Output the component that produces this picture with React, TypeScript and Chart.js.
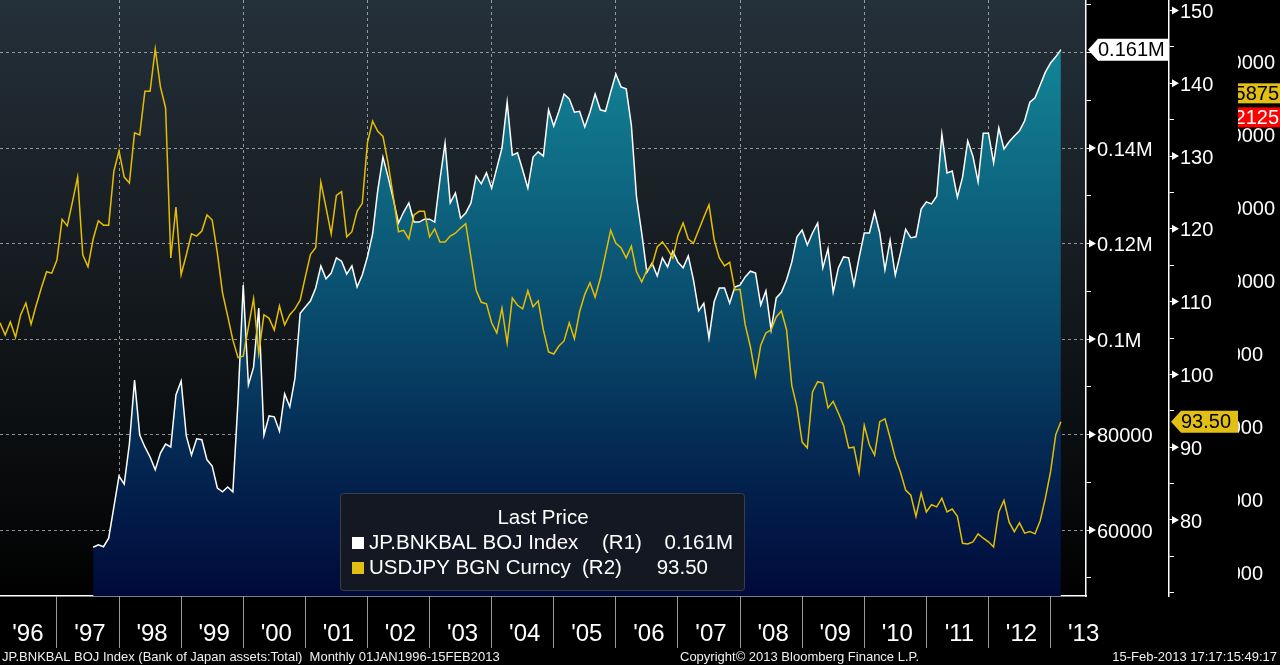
import React, { useEffect, useRef } from 'react';
import { Chart, registerables } from 'chart.js';

Chart.register(...registerables);

const FONT = '"Liberation Sans", Arial, sans-serif';

// ---------- data ----------
// monthly observations, first one = Jan 1996 (plotted at month end)
const FIRST_YEAR = 1996;

const usdjpy = [
  107.1, 105.4, 107.2, 105.1, 108.2, 109.8, 106.9, 109.5, 111.9, 114.1,
  113.9, 115.7, 121.3, 120.4, 123.7, 127.1, 116.4, 114.8, 118.6, 121.1,
  120.5, 120.5, 127.9, 130.7, 127.1, 126.3, 133.2, 132.9, 138.9, 138.9,
  144.7, 139.5, 136.6, 116.0, 123.0, 113.7, 116.4, 119.3, 119.0, 119.7,
  121.9, 121.2, 116.7, 111.2, 108.0, 104.7, 102.3, 102.5, 106.5, 110.4,
  102.9, 108.2, 107.7, 106.1, 109.4, 106.8, 108.2, 109.0, 110.2, 113.4,
  116.5, 117.4, 126.4, 122.9, 119.3, 124.6, 125.1, 118.9, 119.6, 122.4,
  123.5, 131.8, 134.8, 133.4, 132.7, 129.0, 124.4, 119.6, 119.8, 118.6,
  121.9, 122.4, 122.4, 118.9, 120.0, 118.2, 118.2, 119.0, 119.4, 120.1,
  120.7, 116.1, 111.6, 109.9, 109.7, 107.1, 105.7, 109.1, 104.3, 110.5,
  109.5, 109.0, 111.5, 109.3, 110.1, 106.1, 103.1, 102.8, 103.9, 104.6,
  107.1, 104.9, 108.6, 111.0, 112.6, 110.6, 113.2, 116.5, 119.8, 118.0,
  117.4, 116.0, 117.6, 114.1, 112.7, 114.3, 115.0, 117.5, 118.2, 117.2,
  116.0, 119.1, 120.8, 118.6, 118.0, 119.8, 121.6, 123.3, 118.5, 116.0,
  114.9, 115.4, 111.6, 111.7, 106.8, 103.8, 99.8, 104.0, 105.7, 106.1,
  107.9, 108.7, 106.1, 98.5, 95.5, 90.7, 89.9, 97.6, 99.0, 98.8,
  95.4, 96.3, 94.7, 93.0, 89.9, 90.0, 86.5, 93.0, 90.3, 88.9,
  93.5, 93.9, 91.3, 88.5, 86.6, 84.1, 83.4, 80.5, 83.7, 81.1,
  82.1, 81.8, 83.0, 81.1, 81.5, 80.5, 76.8, 76.7, 77.0, 78.1,
  77.5, 77.0, 76.3, 81.1, 82.7, 79.7, 78.4, 79.6, 78.2, 78.4,
  78.1, 79.9, 83.0, 86.6, 91.7, 93.5,
];

// BOJ balance series starts later (month index 18 = Jul 1997)
const BOJ_FIRST_MONTH = 18;
const bojBal = [
  56400, 56900,
  56500, 58300, 64800, 71300, 69600, 78000, 91400, 79900, 77400, 75300,
  72600, 76100, 78000, 77400, 88300, 91200, 79700, 75700, 79100, 78900,
  74700, 73400, 68800, 68000, 69000, 68000, 87200, 111300, 90400, 94100,
  106500, 79900, 83900, 83700, 80700, 88500, 85800, 91800, 105400, 106700,
  108000, 110700, 115300, 112600, 113800, 117000, 116300, 113600, 115300, 110900,
  113400, 117200, 122000, 131200, 138100, 133900, 129300, 124300, 126600, 128500,
  124500, 124500, 125100, 125100, 124500, 133300, 141000, 128500, 130600, 125300,
  126400, 128500, 134100, 132500, 134800, 131600, 135800, 140000, 149600, 138500,
  139000, 135400, 131600, 138100, 139200, 138300, 148000, 144600, 147700, 151300,
  150300, 147500, 147700, 144400, 147500, 151300, 148000, 147700, 151700, 155500,
  152800, 152400, 144800, 129700, 122200, 114000, 115900, 113200, 117000, 115100,
  118400, 116100, 114900, 117400, 112400, 105900, 107500, 100200, 107800, 110700,
  110700, 107500, 110900, 111300, 113000, 114200, 113800, 107100, 110100, 101900,
  108600, 109800, 112400, 116100, 121400, 122800, 119700, 122200, 124300, 114900,
  118900, 109800, 114900, 117200, 117000, 111300, 117000, 122200, 122200, 126600,
  122200, 114500, 120700, 113400, 118000, 123000, 121200, 121400, 127200, 128700,
  128300, 129900, 142900, 134800, 135200, 129700, 133900, 141500, 138300, 132900,
  143100, 143100, 136900, 144200, 139800, 141300, 142500, 143600, 145700, 149600,
  150500, 153200, 155900, 157800, 159100, 160600,
];

// x axis
const yearBoundaries = [1997, 1998, 1999, 2000, 2001, 2002, 2003, 2004, 2005, 2006, 2007, 2008, 2009, 2010, 2011, 2012, 2013];
const gridYears = [1998, 2000, 2002, 2004, 2006, 2008, 2010, 2012];
const yearLabelPos = [1996.5, 1997.5, 1998.5, 1999.5, 2000.5, 2001.5, 2002.5, 2003.5, 2004.5, 2005.5, 2006.5, 2007.5, 2008.5, 2009.5, 2010.5, 2011.5, 2012.5, 2013.5];
const yearLabels = ["'96", "'97", "'98", "'99", "'00", "'01", "'02", "'03", "'04", "'05", "'06", "'07", "'08", "'09", "'10", "'11", "'12", "'13"];
const X_MIN = 1996 + 1 / 12;
const X_MAX = 2013.571;

// R1 axis (BOJ)
const R1_MIN = 46180;
const R1_MAX = 171000;
const r1Ticks = [50000, 60000, 70000, 80000, 90000, 100000, 110000, 120000, 130000, 140000, 150000, 160000, 170000];
const r1GridValues = [60000, 80000, 100000, 120000, 140000, 160000];
const r1LabelValues = [60000, 80000, 100000, 120000, 140000];
const r1Labels = ['60000', '80000', '0.1M', '0.12M', '0.14M'];

// R2 axis (USDJPY)
const R2_MIN = 69.56;
const R2_MAX = 151.43;
const r2Ticks = [70, 75, 80, 85, 90, 95, 100, 105, 110, 115, 120, 125, 130, 135, 140, 145, 150];
const r2LabelValues = [80, 90, 100, 110, 120, 130, 140, 150];

// third (cut-off) axis on the far right
const R3_MIN = -0.315;
const R3_MAX = 7.86;
const r3Ticks = [0, 1, 2, 3, 4, 5, 6, 7];
const r3Labels = ['000', '000', '000', '000', '0000', '0000', '0000', '0000'];
const r3TagValues = [6.58, 6.25];
const r3TagTexts = ['5875', '2125'];
const r3TagBg = ['#e2bf14', '#ff0000'];
const r3TagFg = ['#000000', '#ffffff'];

const legendNames = ['JP.BNKBAL BOJ Index', 'USDJPY BGN Curncy'];
const legendAxes = ['(R1)', '(R2)'];

const WHITE = '#ffffff';
const YELLOW = '#e6be00';
const TAG_YELLOW = '#e2bf14';
const GRID = 'rgba(200,200,200,0.7)';
const CLEAR = 'rgba(0,0,0,0)';

const monthX = (i: number) => FIRST_YEAR + (i + 1) / 12;

const bgPlugin = {
  id: 'bbgBackground',
  beforeDraw(chart: any) {
    const { ctx, chartArea: a, width, height } = chart;
    ctx.save();
    ctx.fillStyle = '#000';
    ctx.fillRect(0, 0, width, height);
    const g = ctx.createLinearGradient(0, a.top, 0, a.bottom);
    g.addColorStop(0, '#24303a');
    g.addColorStop(0.5, '#14191d');
    g.addColorStop(1, '#010101');
    ctx.fillStyle = g;
    ctx.fillRect(a.left, a.top, a.right - a.left, a.bottom - a.top);
    ctx.restore();
  },
};

const legendPlugin = {
  id: 'bbgLegend',
  afterDatasetsDraw(chart: any) {
    const { ctx } = chart;
    const lastBoj = bojBal[bojBal.length - 1];
    const lastJpy = usdjpy[usdjpy.length - 1];
    const values = [(lastBoj / 1e6).toFixed(3) + 'M', lastJpy.toFixed(2)];
    ctx.save();
    ctx.beginPath();
    if (ctx.roundRect) ctx.roundRect(340.5, 493.5, 404, 97, 3);
    else ctx.rect(340.5, 493.5, 404, 97);
    ctx.fillStyle = '#131822';
    ctx.fill();
    ctx.strokeStyle = '#3a3f4a';
    ctx.lineWidth = 1;
    ctx.stroke();
    ctx.font = `20.5px ${FONT}`;
    ctx.fillStyle = WHITE;
    ctx.textBaseline = 'middle';
    ctx.textAlign = 'center';
    ctx.fillText('Last Price', 543, 518);
    const rows = [543, 568];
    const axX = [602, 582];
    const valX = [733, 708];
    const colors = [WHITE, TAG_YELLOW];
    rows.forEach((y, i) => {
      ctx.fillStyle = colors[i];
      ctx.fillRect(352, y - 6, 12, 12);
      ctx.fillStyle = WHITE;
      ctx.textAlign = 'left';
      ctx.fillText(legendNames[i], 369, y);
      ctx.fillText(legendAxes[i], axX[i], y);
      ctx.textAlign = 'right';
      ctx.fillText(values[i], valX[i], y);
    });
    ctx.restore();
  },
};

const tagsPlugin = {
  id: 'bbgTags',
  afterDraw(chart: any) {
    const { ctx } = chart;
    const r1 = chart.scales.r1;
    const r2 = chart.scales.r2;
    const r3 = chart.scales.r3;
    ctx.save();
    // arrow heads on major ticks
    ctx.fillStyle = WHITE;
    const tri = (x: number, y: number) => {
      ctx.beginPath();
      ctx.moveTo(x, y - 4);
      ctx.lineTo(x + 7, y);
      ctx.lineTo(x, y + 4);
      ctx.closePath();
      ctx.fill();
    };
    r1LabelValues.forEach((v) => tri(r1.left + 3, r1.getPixelForValue(v)));
    r2LabelValues.forEach((v) => tri(r2.left + 3, r2.getPixelForValue(v)));

    // last value tag R1
    const lastBoj = bojBal[bojBal.length - 1];
    const y1 = r1.getPixelForValue(lastBoj);
    ctx.beginPath();
    ctx.moveTo(r1.left + 2, y1);
    ctx.lineTo(r1.left + 12, y1 - 11);
    ctx.lineTo(r1.right, y1 - 11);
    ctx.lineTo(r1.right, y1 + 11);
    ctx.lineTo(r1.left + 12, y1 + 11);
    ctx.closePath();
    ctx.fillStyle = WHITE;
    ctx.fill();
    ctx.fillStyle = '#000';
    ctx.font = `20px ${FONT}`;
    ctx.textBaseline = 'middle';
    ctx.textAlign = 'left';
    ctx.fillText((lastBoj / 1e6).toFixed(3) + 'M', r1.left + 12, y1 + 1);

    // last value tag R2
    const lastJpy = usdjpy[usdjpy.length - 1];
    const y2 = r2.getPixelForValue(lastJpy);
    ctx.beginPath();
    ctx.moveTo(r2.left + 2, y2);
    ctx.lineTo(r2.left + 12, y2 - 11);
    ctx.lineTo(r2.right + 1, y2 - 11);
    ctx.lineTo(r2.right + 1, y2 + 11);
    ctx.lineTo(r2.left + 12, y2 + 11);
    ctx.closePath();
    ctx.fillStyle = TAG_YELLOW;
    ctx.fill();
    ctx.fillStyle = '#000';
    ctx.fillText(lastJpy.toFixed(2), r2.left + 12, y2 + 1);

    // cut-off third axis
    ctx.save();
    ctx.beginPath();
    ctx.rect(r3.left + 1, 0, r3.right - r3.left, chart.height);
    ctx.clip();
    ctx.font = `20px ${FONT}`;
    ctx.textAlign = 'right';
    r3Ticks.forEach((v, i) => {
      const y = r3.getPixelForValue(v);
      ctx.fillStyle = WHITE;
      ctx.fillText(r3Labels[i], i >= 4 ? r3.left + 38 : r3.left + 26, y + 1);
    });
    r3TagValues.forEach((v, i) => {
      const y = r3.getPixelForValue(v);
      ctx.fillStyle = r3TagBg[i];
      ctx.fillRect(r3.left + 1, y - 10, r3.right - r3.left, 20);
      ctx.fillStyle = r3TagFg[i];
      ctx.fillText(r3TagTexts[i], r3.left + 42, y + 1);
    });
    ctx.restore();

    // footer
    ctx.font = `13px ${FONT}`;
    ctx.fillStyle = '#f0f0f0';
    ctx.textBaseline = 'middle';
    ctx.textAlign = 'left';
    ctx.fillText('JP.BNKBAL BOJ Index (Bank of Japan assets:Total)  Monthly 01JAN1996-15FEB2013', 2, 657);
    ctx.fillText('Copyright\u00a9 2013 Bloomberg Finance L.P.', 680, 657);
    ctx.textAlign = 'right';
    ctx.fillText('15-Feb-2013 17:17:15:49:17', 1277, 657);
    ctx.restore();
  },
};

const zeroPad = (s: any) => {
  s.paddingTop = 0;
  s.paddingBottom = 0;
  s.paddingLeft = 0;
  s.paddingRight = 0;
};

export default function App() {
  const ref = useRef<HTMLCanvasElement | null>(null);

  useEffect(() => {
    document.body.style.margin = '0';
    document.body.style.background = '#000';
    const canvas = ref.current;
    if (!canvas) return;

    const bojFill = (c: any) => {
      const area = c.chart.chartArea;
      if (!area) return 'rgba(20,130,145,1)';
      const g = c.chart.ctx.createLinearGradient(0, area.top, 0, area.bottom);
      g.addColorStop(0, '#1590a0');
      g.addColorStop(0.25, '#0f6f87');
      g.addColorStop(0.55, '#09486a');
      g.addColorStop(0.8, '#03234f');
      g.addColorStop(1, '#000a3a');
      return g;
    };

    const chart = new Chart(canvas, {
      type: 'line',
      data: {
        datasets: [
          {
            label: 'USDJPY BGN Curncy',
            data: usdjpy.map((v, i) => ({ x: monthX(i), y: v })),
            yAxisID: 'r2',
            borderColor: YELLOW,
            borderWidth: 1.5,
            pointRadius: 0,
            tension: 0,
            fill: false,
          },
          {
            label: 'JP.BNKBAL BOJ Index',
            data: bojBal.map((v, i) => ({ x: monthX(i + BOJ_FIRST_MONTH), y: v })),
            yAxisID: 'r1',
            borderColor: WHITE,
            borderWidth: 1.5,
            pointRadius: 0,
            tension: 0,
            fill: 'start',
            backgroundColor: bojFill,
          },
        ],
      } as any,
      options: {
        animation: false,
        responsive: false,
        devicePixelRatio: 1,
        layout: { autoPadding: false, padding: 0 },
        plugins: { legend: { display: false }, tooltip: { enabled: false } },
        scales: {
          x: {
            type: 'linear',
            position: 'bottom',
            min: X_MIN,
            max: X_MAX,
            z: 1,
            afterBuildTicks: (s: any) => {
              s.ticks = [...yearBoundaries, ...yearLabelPos].sort((a, b) => a - b).map((v) => ({ value: v }));
            },
            afterFit: (s: any) => {
              s.height = 69;
              zeroPad(s);
            },
            grid: {
              lineWidth: 1,
              tickLength: 52,
              color: (c: any) => (c.tick && gridYears.includes(c.tick.value) ? GRID : CLEAR),
              tickColor: (c: any) => (c.tick && yearBoundaries.includes(c.tick.value) ? '#9a9a9a' : CLEAR),
            },
            border: { color: WHITE, width: 1.5, dash: [3, 3] },
            ticks: {
              autoSkip: false,
              maxRotation: 0,
              minRotation: 0,
              padding: -28,
              labelOffset: 2,
              color: WHITE,
              font: { family: FONT, size: 24 },
              callback: (v: any) => {
                const i = yearLabelPos.indexOf(v);
                return i >= 0 ? yearLabels[i] : '';
              },
            },
          },
          r1: {
            type: 'linear',
            position: 'right',
            weight: 0,
            min: R1_MIN,
            max: R1_MAX,
            z: 1,
            afterBuildTicks: (s: any) => {
              s.ticks = r1Ticks.map((v) => ({ value: v }));
            },
            afterFit: (s: any) => {
              s.width = 83;
              zeroPad(s);
            },
            grid: {
              lineWidth: 1,
              tickLength: 5,
              color: (c: any) => (c.tick && r1GridValues.includes(c.tick.value) ? GRID : CLEAR),
              tickColor: WHITE,
            },
            border: { color: WHITE, width: 1.5, dash: [3, 3] },
            ticks: {
              padding: 6,
              labelOffset: 2,
              color: WHITE,
              font: { family: FONT, size: 20 },
              callback: (v: any) => {
                const i = r1LabelValues.indexOf(v);
                return i >= 0 ? r1Labels[i] : '';
              },
            },
          },
          r2: {
            type: 'linear',
            position: 'right',
            weight: 1,
            min: R2_MIN,
            max: R2_MAX,
            z: 1,
            afterBuildTicks: (s: any) => {
              s.ticks = r2Ticks.map((v) => ({ value: v }));
            },
            afterFit: (s: any) => {
              s.width = 68;
              zeroPad(s);
            },
            grid: {
              drawOnChartArea: false,
              lineWidth: 1,
              tickLength: 5,
              color: WHITE,
              tickColor: WHITE,
            },
            border: { color: WHITE, width: 1.5 },
            ticks: {
              padding: 6,
              labelOffset: 2,
              color: WHITE,
              font: { family: FONT, size: 20 },
              callback: (v: any) => (r2LabelValues.includes(v) ? String(v) : ''),
            },
          },
          r3: {
            type: 'linear',
            position: 'right',
            weight: 2,
            min: R3_MIN,
            max: R3_MAX,
            afterBuildTicks: (s: any) => {
              s.ticks = r3Ticks.map((v) => ({ value: v }));
            },
            afterFit: (s: any) => {
              s.width = 43;
              zeroPad(s);
            },
            grid: { display: false },
            border: { display: false },
            ticks: { display: false },
          },
        },
      } as any,
      plugins: [bgPlugin, legendPlugin, tagsPlugin],
    });

    return () => chart.destroy();
  }, []);

  return (
    <div style={{ position: 'fixed', left: 0, top: 0, width: 1280, height: 665, background: '#000' }}>
      <canvas ref={ref} width={1280} height={665} style={{ display: 'block', width: 1280, height: 665 }} />
    </div>
  );
}
